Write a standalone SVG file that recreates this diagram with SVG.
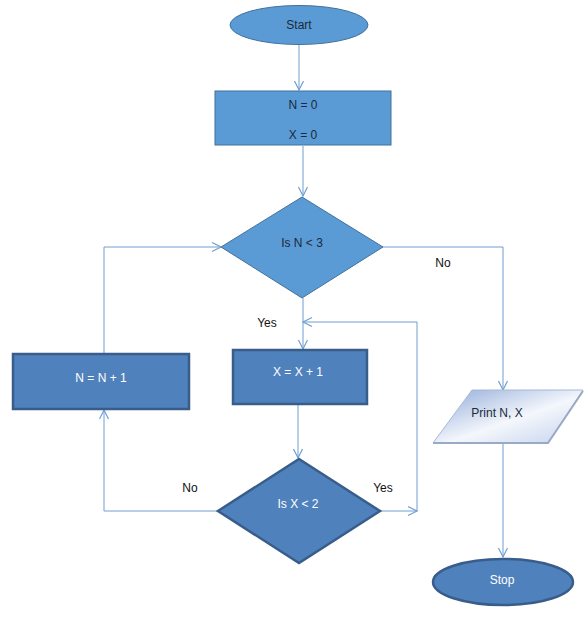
<svg xmlns="http://www.w3.org/2000/svg" width="585" height="622" viewBox="0 0 585 622">
<defs>
<marker id="arr" markerWidth="12" markerHeight="12" refX="10" refY="5" orient="auto" markerUnits="userSpaceOnUse">
<path d="M1,0.5 L10,5 L1,9.5" fill="none" stroke="#6f9fd0" stroke-width="1.2"/>
</marker>
<linearGradient id="pg" x1="0" y1="0" x2="1" y2="1">
<stop offset="0" stop-color="#8ea9d8"/>
<stop offset="0.55" stop-color="#f4f7fc"/>
<stop offset="1" stop-color="#c3d2ec"/>
</linearGradient>
</defs>
<style>
.light{fill:#5b9bd5;stroke:#41719c;stroke-width:1}
.dark{fill:#4f81bd;stroke:#385d8a;stroke-width:2.5}
.t{font-family:"Liberation Sans",Arial,sans-serif;font-size:12px;text-anchor:middle;dominant-baseline:central}
.td{fill:#1a2a3a}
.tw{fill:#ffffff}
.lbl{fill:#111111}
.c{fill:none;stroke:#6f9fd0;stroke-width:1}
</style>
<rect width="585" height="622" fill="#ffffff"/>
<g id="connectors">
<path class="c" d="M299,44 V90" marker-end="url(#arr)"/>
<path class="c" d="M303,146 V196" marker-end="url(#arr)"/>
<path class="c" d="M104,354 V247 H221" marker-end="url(#arr)"/>
<path class="c" d="M383,247 H503 V390" marker-end="url(#arr)"/>
<path class="c" d="M303,298 V349" marker-end="url(#arr)"/>
<path class="c" d="M298,404 V458" marker-end="url(#arr)"/>
<path class="c" d="M218,511 H104 V410" marker-end="url(#arr)"/>
<path class="c" d="M380,511 H417" marker-end="url(#arr)"/>
<path class="c" d="M417,511 V322 H303" marker-end="url(#arr)"/>
<path class="c" d="M503,444 V557" marker-end="url(#arr)"/>
<text class="t lbl" x="443" y="263">No</text>
<text class="t lbl" x="267" y="323">Yes</text>
<text class="t lbl" x="190" y="488">No</text>
<text class="t lbl" x="383" y="488">Yes</text>
</g>
<g id="start">
<ellipse class="light" cx="299" cy="25" rx="69" ry="19.5"/>
<text class="t td" x="299" y="25">Start</text>
</g>
<g id="init">
<rect class="light" x="215" y="91" width="176" height="54"/>
<text class="t td" x="303" y="105">N = 0</text>
<text class="t td" x="303" y="135">X = 0</text>
</g>
<g id="checkN">
<polygon class="light" points="302,197 383,247 302,298 221,247"/>
<text class="t td" x="302" y="243">Is N &lt; 3</text>
</g>
<g id="incN">
<rect class="dark" x="13" y="354" width="176" height="55"/>
<text class="t tw" x="101" y="378">N = N + 1</text>
</g>
<g id="incX">
<rect class="dark" x="233" y="350" width="134" height="54"/>
<text class="t tw" x="298" y="372">X = X + 1</text>
</g>
<g id="checkX">
<polygon class="dark" points="299,459 380,511 299,563 218,511"/>
<text class="t tw" x="298" y="504">Is X &lt; 2</text>
</g>
<g id="print">
<polygon points="472,390 583,390 548,443 433,443" fill="url(#pg)" stroke="#a8b8d8" stroke-width="1"/>
<path d="M433,443 H548 L583,391" fill="none" stroke="#9aa9c6" stroke-width="2"/>
<text class="t td" x="497" y="413">Print N, X</text>
</g>
<g id="stop">
<ellipse class="dark" cx="503" cy="582" rx="70" ry="23"/>
<text class="t tw" x="502" y="580">Stop</text>
</g>
</svg>
